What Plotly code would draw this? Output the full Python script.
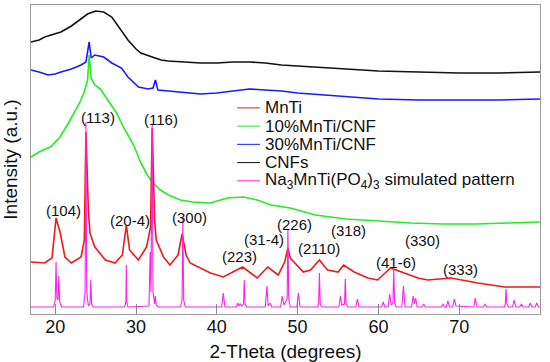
import plotly.graph_objects as go

# ---------------- data (2-theta in degrees, intensity in arbitrary stacked units) ----------------
CNF_2THETA = [17, 18, 18.7, 20, 20.7, 22, 22.5, 23, 24, 25, 26, 27, 27.8, 29, 30, 30.6, 32, 33.1,
              34, 36, 38, 40, 42, 44, 46, 48, 50, 55, 60, 65, 70, 75, 80]
CNF_INT = [272, 274, 277, 280, 282, 288, 291, 294, 300, 303, 302, 297, 288, 274, 265, 261, 257, 254,
           253, 252, 251, 251, 252, 252, 251, 249, 248, 246, 243, 242, 241, 241, 242]

MNTI30_2THETA = [17, 18, 19.1, 20, 20.7, 22, 23.2, 23.8, 24.2, 24.45, 24.9, 26, 26.5, 27, 28.2, 29,
                 30.3, 31.5, 32.1, 32.4, 32.7, 34, 36, 38, 40, 42, 44, 46, 48, 50, 55, 60, 65, 70, 75, 80]
MNTI30_INT = [244, 242, 239, 240, 242, 245, 249, 252, 272, 256, 259, 257, 254, 251, 246, 237,
              227, 225, 226, 234, 224, 223, 221, 220, 221, 223, 225, 224, 223, 221, 218, 215, 214, 214, 214, 215]

MNTI10_2THETA = [17, 18, 19.4, 20.5, 21.5, 22.3, 23.0, 23.6, 24.0, 24.2, 24.45, 24.9, 25.6, 26.5, 27.6,
                 28.5, 29.7, 30.6, 31.4, 32.0, 33.0, 34.0, 35.5, 37, 39.2, 41.3, 43.3, 45, 46.7, 49.1,
                 52.2, 56, 59.7, 64, 68, 72, 76, 80]
MNTI10_INT = [157, 162, 167, 176, 189, 201, 211, 222, 234, 259, 236, 229, 225, 214, 201,
              186, 169, 151, 139, 132, 124, 119, 114, 112, 111, 116, 117, 114, 109, 106,
              99, 95, 93, 91, 90, 90, 91, 92]

MNTI_2THETA = [17.0, 18.7, 19.6, 20.0, 20.1, 20.3, 20.6, 21.2, 22.0, 23.2, 23.6, 23.8, 24.1, 24.3, 24.9,
               26.2, 27.4, 28.3, 28.8, 29.2, 30.3, 31.3, 31.8, 32.0, 32.3, 32.5, 33.4, 34.2, 35.2, 35.7,
               36.2, 36.7, 38.0, 39.2, 40.8, 43.2, 45.0, 46.3, 47.6, 48.4, 48.8, 49.1, 50.7, 51.6, 52.7,
               53.7, 55.0, 55.7, 57.0, 58.7, 59.9, 61.5, 63.2, 64.9, 66.1, 69.0, 72.3, 75.6, 80.0]
MNTI_INT = [52, 51, 56, 84, 96, 90, 82, 57, 51, 57, 74, 182, 104, 81, 67,
            54, 51, 59, 89, 64, 54, 67, 87, 186, 94, 74, 57, 49, 59, 80,
            59, 51, 46, 41, 37, 47, 36, 47, 39, 52, 66, 56, 42, 44, 54,
            44, 42, 49, 42, 36, 34, 46, 41, 36, 34, 36, 31, 27, 27]

SIM_2THETA = [17.0, 19.8, 20.0, 20.1, 20.2, 20.35, 20.45, 20.55, 20.8,
              23.5, 23.7, 23.8, 23.9, 24.1, 24.3, 24.4, 24.5, 24.7,
              28.6, 28.75, 28.8, 28.85, 29.0,
              31.6, 31.75, 31.85, 32.0, 32.1, 32.3, 32.4, 32.5, 32.8,
              35.5, 35.7, 35.8, 35.9, 36.1,
              40.6, 40.8, 41.0,
              42.4, 42.6, 42.75, 42.9, 43.1, 43.3, 43.4, 43.5, 43.7,
              46.0, 46.2, 46.35, 46.6, 46.8,
              47.9, 48.1, 48.3, 48.7, 48.8, 48.9, 49.1,
              49.9, 50.1, 50.3,
              52.5, 52.6, 52.7, 52.8, 53.0,
              55.1, 55.3, 55.45, 55.8, 55.9, 56.0, 56.2,
              57.2, 57.4, 57.6,
              60.4, 60.6, 60.8,
              61.2, 61.4, 61.6, 61.8, 61.9, 62.0, 62.2,
              62.9, 63.1, 63.3,
              64.1, 64.3, 64.45, 64.6, 64.8,
              65.4, 65.6, 65.8,
              67.8, 68.0, 68.2, 68.4, 68.6, 68.8, 69.2, 69.4, 69.6,
              71.8, 72.0, 72.2,
              73.0, 73.2, 73.4,
              75.6, 75.7, 75.8, 75.9, 76.1,
              76.6, 76.8, 77.0,
              77.5, 77.7, 77.9,
              78.6, 78.8, 79.0,
              79.4, 79.6, 79.8, 80.0]
SIM_INT = [7, 7, 14, 52, 16, 14, 38, 12, 7,
           7, 22, 192, 22, 8, 10, 34, 10, 7,
           7, 12, 49, 12, 7,
           8, 62, 22, 189, 22, 10, 18, 9, 7,
           7, 14, 95, 14, 7,
           7, 21, 7,
           7, 11, 8, 10, 8, 10, 34, 10, 7,
           7, 28, 8, 11, 7,
           7, 18, 9, 15, 85, 15, 7,
           7, 21, 7,
           7, 10, 41, 10, 7,
           7, 18, 9, 10, 35, 10, 7,
           7, 15, 7,
           7, 12, 7,
           7, 20, 9, 11, 45, 11, 7,
           7, 28, 7,
           7, 18, 10, 16, 7,
           7, 10, 7,
           7, 10, 7, 7, 13, 7, 7, 15, 8,
           7, 16, 7,
           7, 10, 7,
           7, 10, 25, 10, 7,
           7, 14, 7,
           7, 10, 7,
           7, 11, 7,
           7, 11, 7, 7]

HKL_LABELS = ["(104)", "(113)", "(116)", "(20-4)", "(300)", "(223)", "(31-4)", "(226)",
              "(2110)", "(318)", "(330)", "(41-6)", "(333)"]
HKL_2THETA = [21.0, 25.3, 33.1, 29.3, 36.6, 42.8, 45.8, 49.6, 52.7, 56.3, 65.4, 62.2, 70.1]
HKL_INT = [104, 197, 195, 94, 97, 58, 75, 90, 66, 84, 74, 52, 45]

X_TICKS = [20, 30, 40, 50, 60, 70, 80]

SERIES_NAMES = ["MnTi", "10%MnTi/CNF", "30%MnTi/CNF", "CNFs",
                "Na<sub>3</sub>MnTi(PO<sub>4</sub>)<sub>3</sub> simulated pattern"]
SERIES_COLORS = ["#f01818", "#22ee22", "#1a1aff", "#111111", "#ff22ee"]
SERIES_X = [MNTI_2THETA, MNTI10_2THETA, MNTI30_2THETA, CNF_2THETA, SIM_2THETA]
SERIES_Y = [MNTI_INT, MNTI10_INT, MNTI30_INT, CNF_INT, SIM_INT]
SERIES_WIDTH = [1.6, 1.6, 1.6, 1.6, 1.1]

FONT = "Arial, Liberation Sans, sans-serif"

fig = go.Figure()
# draw bottom-to-top: CNFs, 30%, 10%, MnTi, simulated
for i in [3, 2, 1, 0, 4]:
    fig.add_trace(go.Scatter(x=SERIES_X[i], y=SERIES_Y[i], mode="lines", name=SERIES_NAMES[i],
                             line=dict(color=SERIES_COLORS[i], width=SERIES_WIDTH[i]),
                             showlegend=False))

for lab, xx, yy in zip(HKL_LABELS, HKL_2THETA, HKL_INT):
    fig.add_annotation(x=xx, y=yy, text=lab, showarrow=False, xref="x", yref="y",
                       font=dict(family=FONT, size=15, color="#111111"))

# legend (compact, as in the original figure): key line + label per series
LEG_TOP = 0.667
LEG_STEP = 0.059
for i, (name, col) in enumerate(zip(SERIES_NAMES, SERIES_COLORS)):
    yy = LEG_TOP - i * LEG_STEP
    fig.add_shape(type="line", xref="paper", yref="paper", x0=0.405, x1=0.450, y0=yy, y1=yy,
                  line=dict(color=col, width=1))
    fig.add_annotation(x=0.456, y=yy, xref="paper", yref="paper", text=name, showarrow=False,
                       xanchor="left", yanchor="middle",
                       font=dict(family=FONT, size=17, color="#111111"))

fig.update_layout(
    width=550, height=362,
    margin=dict(l=31, r=10, t=5, b=48, autoexpand=False),
    paper_bgcolor="white", plot_bgcolor="white",
    font=dict(family=FONT, color="#111111"),
    showlegend=False,
    xaxis=dict(range=[17, 80], tickvals=X_TICKS, ticks="inside", ticklen=10, tickcolor="#888888",
               showline=True, mirror=True, linecolor="#9a9a9a", linewidth=1, automargin=False,
               showgrid=False, zeroline=False, tickfont=dict(size=18), ticklabelstandoff=-4,
               title=dict(text="2-Theta (degrees)", font=dict(size=19))),
    yaxis=dict(range=[0, 309], showticklabels=False, ticks="", showline=True, mirror=True,
               linecolor="#9a9a9a", linewidth=1, showgrid=False, zeroline=False, automargin=False,
               title=dict(text="Intensity (a.u.)", font=dict(size=19))),
)

fig.write_html("out.html", config={"displayModeBar": False},
               post_script="document.body.style.margin='0px';")
